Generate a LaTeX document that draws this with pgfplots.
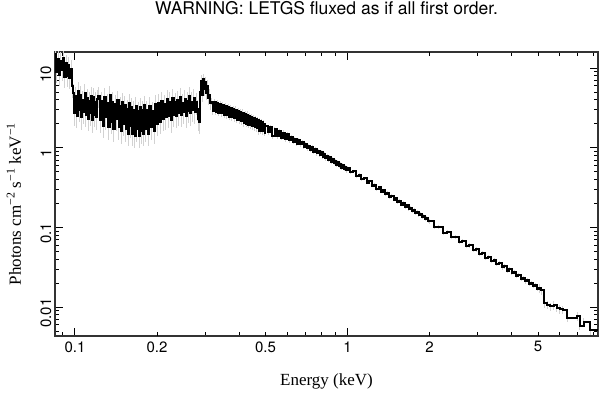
\documentclass[border=0pt]{standalone}
\usepackage{pgfplots}
\pgfplotsset{compat=1.18}
\usepackage{pgfplotstable}
\usepackage{fontspec}
\setmainfont{Liberation Serif}
\newfontfamily\helv{TeX Gyre Heros}

\pgfplotstableread{
E F r
0.0845 14.8 0.28
0.0855 9.0 0.28
0.0865 13.0 0.28
0.0875 8.2 0.28
0.0885 12.4 0.28
0.0895 9.5 0.28
0.0905 13.2 0.28
0.0915 7.8 0.28
0.0925 11.5 0.28
0.0935 8.0 0.28
0.0945 10.8 0.28
0.0955 7.5 0.28
0.0965 9.8 0.28
0.0975 6.0 0.3
0.0985 4.8 0.3
0.0995 2.7 0.3
0.1005 4.4 0.3
0.1015 2.5 0.3
0.1025 5.2 0.3
0.1035 3.0 0.3
0.1045 4.6 0.3
0.1055 2.4 0.3
0.1065 4.0 0.3
0.1075 2.8 0.3
0.1085 4.9 0.3
0.1095 2.6 0.3
0.1105 4.2 0.3
0.1115 2.3 0.3
0.1125 3.9 0.3
0.1135 2.7 0.3
0.1145 4.5 0.3
0.1155 2.2 0.3
0.1165 4.3 0.3
0.1175 2.6 0.3
0.1185 3.8 0.3
0.1195 2.4 0.3
0.1205 4.1 0.3
0.1220 4.5 0.3
0.1235 2.2 0.3
0.1250 3.9 0.3
0.1265 1.9 0.3
0.1280 4.3 0.3
0.1295 2.4 0.3
0.1310 3.6 0.3
0.1325 1.8 0.3
0.1340 4.6 0.3
0.1355 2.1 0.3
0.1370 3.8 0.3
0.1385 1.7 0.3
0.1400 3.5 0.3
0.1415 2.3 0.3
0.1430 4.0 0.3
0.1445 1.8 0.3
0.1460 3.3 0.3
0.1475 1.6 0.3
0.1490 3.7 0.3
0.1505 2.0 0.3
0.1520 3.4 0.3
0.1535 1.7 0.3
0.1550 3.1 0.3
0.1565 1.5 0.3
0.1580 3.6 0.3
0.1595 1.9 0.3
0.1610 3.2 0.3
0.1625 1.5 0.3
0.1640 3.0 0.3
0.1655 1.4 0.3
0.1670 3.3 0.3
0.1685 1.7 0.3
0.1700 2.9 0.3
0.1715 1.4 0.3
0.1730 3.2 0.3
0.1745 1.6 0.3
0.1760 3.0 0.3
0.1775 1.5 0.3
0.1790 3.4 0.3
0.1805 1.7 0.3
0.1825 3.0 0.3
0.1850 1.5 0.3
0.1875 3.3 0.3
0.1900 1.8 0.3
0.1925 2.9 0.3
0.1950 1.6 0.3
0.1975 3.5 0.3
0.2000 2.0 0.3
0.2025 3.6 0.3
0.2050 2.1 0.3
0.2075 3.9 0.3
0.2100 2.3 0.3
0.2125 3.5 0.3
0.2150 2.4 0.3
0.2175 4.1 0.3
0.2200 2.5 0.3
0.2225 3.8 0.3
0.2250 2.2 0.3
0.2275 4.2 0.3
0.2300 2.6 0.3
0.2325 3.7 0.3
0.2350 2.5 0.3
0.2375 4.0 0.3
0.2400 2.7 0.3
0.2425 4.3 0.3
0.2450 2.6 0.3
0.2475 3.6 0.3
0.2500 2.8 0.3
0.2525 4.1 0.3
0.2550 2.5 0.3
0.2575 3.9 0.3
0.2600 2.9 0.3
0.2625 4.4 0.3
0.2650 2.7 0.3
0.2675 3.8 0.3
0.2700 3.0 0.3
0.2725 4.2 0.3
0.2750 2.8 0.3
0.2775 3.7 0.3
0.2800 3.1 0.3
0.2825 2.3 0.3
0.2850 2.1 0.3
0.2875 5.0 0.18
0.2900 6.9 0.18
0.2925 4.6 0.18
0.2950 7.2 0.18
0.2975 5.4 0.18
0.3000 6.6 0.18
0.3025 4.8 0.18
0.3050 6.0 0.18
0.3075 4.2 0.18
0.3100 4.6 0.18
0.3125 3.6 0.18
0.316 3.8 0.1
0.320 2.9 0.1
0.324 3.7 0.1
0.328 2.85 0.1
0.332 3.6 0.1
0.336 2.75 0.1
0.340 3.5 0.1
0.344 2.7 0.1
0.348 3.45 0.1
0.352 2.6 0.1
0.356 3.35 0.1
0.360 2.55 0.1
0.364 3.25 0.1
0.368 2.45 0.1
0.372 3.15 0.1
0.376 2.4 0.1
0.380 3.05 0.1
0.384 2.35 0.1
0.388 3.0 0.1
0.392 2.25 0.1
0.396 2.9 0.1
0.400 2.2 0.1
0.404 2.8 0.1
0.408 2.15 0.1
0.412 2.75 0.1
0.416 2.05 0.1
0.420 2.65 0.1
0.424 2.0 0.1
0.428 2.6 0.1
0.432 1.95 0.1
0.436 2.5 0.1
0.440 1.92 0.1
0.444 2.43 0.1
0.448 1.85 0.1
0.452 2.35 0.1
0.456 1.8 0.1
0.460 2.28 0.1
0.464 1.75 0.1
0.468 2.2 0.1
0.472 1.6 0.1
0.476 2.15 0.1
0.480 1.64 0.1
0.484 2.08 0.1
0.488 1.6 0.1
0.492 2.0 0.1
0.496 1.55 0.1
0.50 1.90 0.07
0.51 1.56 0.07
0.52 1.80 0.07
0.53 1.40 0.07
0.54 1.70 0.07
0.55 1.40 0.07
0.56 1.61 0.07
0.57 1.34 0.07
0.58 1.54 0.07
0.59 1.28 0.07
0.60 1.47 0.07
0.61 1.24 0.07
0.62 1.37 0.06
0.63 1.19 0.06
0.64 1.30 0.06
0.65 1.13 0.06
0.66 1.24 0.06
0.67 1.10 0.06
0.68 1.18 0.06
0.69 1.03 0.06
0.70 1.12 0.06
0.71 0.98 0.06
0.72 1.06 0.06
0.73 0.93 0.06
0.74 1.01 0.06
0.75 0.89 0.06
0.76 0.97 0.06
0.77 0.85 0.06
0.78 0.92 0.06
0.79 0.81 0.06
0.80 0.88 0.06
0.81 0.77 0.06
0.82 0.835 0.06
0.83 0.735 0.06
0.84 0.79 0.06
0.85 0.70 0.06
0.86 0.755 0.06
0.87 0.67 0.06
0.88 0.725 0.06
0.89 0.64 0.06
0.90 0.69 0.06
0.91 0.615 0.06
0.92 0.66 0.06
0.93 0.59 0.06
0.94 0.63 0.06
0.95 0.565 0.06
0.96 0.605 0.06
0.97 0.54 0.06
0.98 0.58 0.06
0.99 0.52 0.06
1.000 0.565 0.05
1.025 0.49 0.05
1.050 0.505 0.05
1.075 0.445 0.05
1.100 0.458 0.05
1.125 0.402 0.05
1.150 0.415 0.05
1.175 0.365 0.05
1.200 0.378 0.05
1.225 0.335 0.05
1.250 0.345 0.05
1.275 0.306 0.05
1.300 0.318 0.05
1.325 0.281 0.05
1.350 0.293 0.05
1.375 0.260 0.05
1.400 0.271 0.05
1.425 0.241 0.05
1.450 0.251 0.05
1.475 0.224 0.05
1.500 0.233 0.05
1.525 0.209 0.05
1.550 0.217 0.05
1.575 0.194 0.05
1.600 0.204 0.05
1.625 0.182 0.05
1.650 0.190 0.05
1.675 0.170 0.05
1.700 0.178 0.05
1.725 0.160 0.05
1.750 0.167 0.05
1.775 0.150 0.05
1.800 0.158 0.05
1.825 0.142 0.05
1.850 0.149 0.05
1.875 0.134 0.05
1.900 0.140 0.05
1.925 0.126 0.05
1.950 0.133 0.05
1.975 0.120 0.05
2.00 0.119 0.06
2.08 0.102 0.06
2.16 0.101 0.06
2.24 0.086 0.06
2.32 0.087 0.06
2.40 0.076 0.06
2.48 0.0765 0.06
2.56 0.066 0.06
2.64 0.067 0.06
2.72 0.058 0.06
2.80 0.0595 0.06
2.88 0.052 0.06
2.96 0.053 0.06
3.04 0.0465 0.06
3.12 0.0475 0.06
3.20 0.041 0.06
3.28 0.043 0.06
3.36 0.038 0.06
3.44 0.039 0.06
3.52 0.0345 0.06
3.60 0.0355 0.06
3.68 0.0315 0.06
3.76 0.0325 0.06
3.84 0.0288 0.06
3.92 0.0298 0.06
4.00 0.0266 0.06
4.08 0.0275 0.06
4.16 0.0245 0.06
4.24 0.0253 0.06
4.32 0.0227 0.06
4.40 0.0235 0.06
4.48 0.0210 0.06
4.56 0.0218 0.06
4.64 0.0196 0.06
4.72 0.0203 0.06
4.80 0.0183 0.06
4.88 0.0189 0.06
4.96 0.0171 0.06
5.04 0.0172 0.12
5.13 0.0162 0.12
5.27 0.0112 0.12
5.41 0.0108 0.12
5.55 0.0102 0.12
5.70 0.0106 0.12
5.85 0.0098 0.12
6.00 0.0094 0.12
6.15 0.0093 0.12
6.40 0.0074 0.12
6.95 0.0077 0.12
7.10 0.0058 0.12
7.35 0.0066 0.12
7.75 0.0051 0.12
8.30 0.0051 0.12
}\spec

\begin{document}
\begin{tikzpicture}
\useasboundingbox (-55pt,-62pt) rectangle (554pt,336pt);
\begin{axis}[
  at={(0,0)}, anchor=south west,
  scale only axis, width=543pt, height=284pt,
  xmode=log, ymode=log,
  xmin=0.0845, xmax=8.3, ymin=0.00435, ymax=15.9,
  axis line style={line width=1.2pt, black!80},
  tick style={line width=0.9pt, black},
  tick align=inside,
  major tick length=8pt, minor tick length=4pt,
  xtick={0.1,1}, xticklabels={0.1,1},
  minor xtick={0.09,0.2,0.3,0.4,0.5,0.6,0.7,0.8,0.9,2,3,4,5,6,7,8},
  extra x ticks={0.2,0.5,2,5}, extra x tick labels={0.2,0.5,2,5},
  extra x tick style={major tick length=4pt},
  ytick={0.01,0.1,1,10}, yticklabels={0.01,0.1,1,10},
  minor ytick={0.005,0.006,0.007,0.008,0.009,0.02,0.03,0.04,0.05,0.06,0.07,0.08,0.09,0.2,0.3,0.4,0.5,0.6,0.7,0.8,0.9,2,3,4,5,6,7,8,9},
  tick label style={font=\helv\fontsize{15}{15}\selectfont, black},
  xticklabel style={yshift=-2pt},
  yticklabel style={rotate=90, anchor=south, xshift=-6pt},
  title={WARNING: LETGS fluxed as if all first order.},
  title style={font=\helv\fontsize{17.5}{17.5}\selectfont, at={(0.5,1)}, anchor=base, yshift=31pt},
  xlabel={Energy (keV)},
  xlabel style={font=\fontsize{17}{17}\selectfont, at={(0.5,0)}, anchor=base, yshift=-49pt},
  ylabel={Photons cm\textsuperscript{−2} s\textsuperscript{−1} keV\textsuperscript{−1}},
  ylabel style={font=\fontsize{17}{17}\selectfont, at={(0,0.5)}, anchor=base, yshift=34pt, xshift=-10pt},
]
\addplot[const plot, gray!35, line width=0.4pt, mark=none,
  error bars/.cd, y dir=both, y explicit relative,
  error bar style={gray!35, line width=0.4pt}, error mark=none]
  table[x=E, y=F, y error=r]{\spec};
\addplot[const plot, black, line width=2pt, mark=none] table[x=E, y=F]{\spec};
\end{axis}
\end{tikzpicture}
\end{document}
